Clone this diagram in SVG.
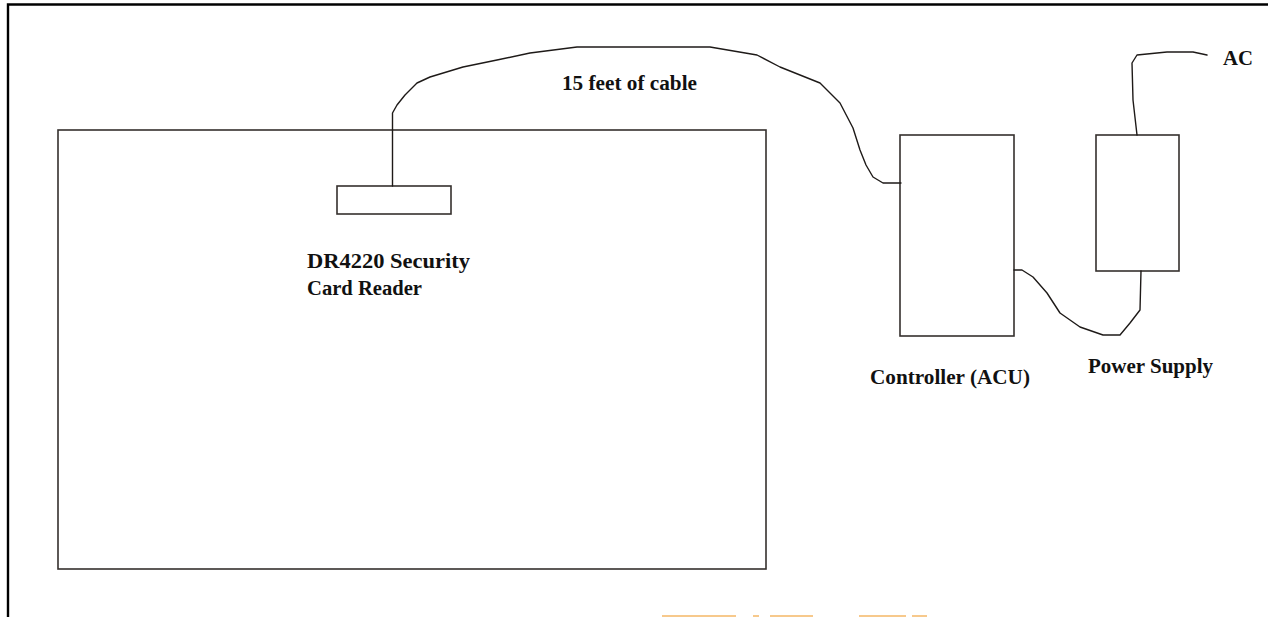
<svg xmlns="http://www.w3.org/2000/svg" width="1268" height="617" viewBox="0 0 1268 617">
<style>
.box{fill:none;stroke:#35302d;stroke-width:1.6}
.wire{fill:none;stroke:#1e1a18;stroke-width:1.4;stroke-linejoin:round;stroke-linecap:round}
.lbl{font-family:"Liberation Serif","Times New Roman",serif;font-weight:bold;font-size:20px;fill:#111}
.frame{fill:none;stroke:#000;stroke-width:2.4}
.mark{fill:#f7c98c}
</style>
<rect width="1268" height="617" fill="#fff"/>
<path class="frame" d="M8,617 V4.5 H1268"/>
<g id="door">
<rect class="box" x="58" y="130" width="708" height="439"/>
</g>
<g id="card-reader">
<rect class="box" x="337" y="186" width="114" height="28"/>
<text class="lbl" x="307" y="268" textLength="163" lengthAdjust="spacingAndGlyphs">DR4220 Security</text>
<text class="lbl" x="307" y="295" textLength="115" lengthAdjust="spacingAndGlyphs">Card Reader</text>
</g>
<g id="controller">
<rect class="box" x="900" y="135" width="114" height="201"/>
<text class="lbl" x="870" y="384" textLength="160" lengthAdjust="spacingAndGlyphs">Controller (ACU)</text>
</g>
<g id="power-supply">
<rect class="box" x="1096" y="135" width="83" height="136"/>
<text class="lbl" x="1088" y="373" textLength="125" lengthAdjust="spacingAndGlyphs">Power Supply</text>
</g>
<g id="ac">
<text class="lbl" x="1223" y="65" textLength="30" lengthAdjust="spacingAndGlyphs">AC</text>
</g>
<g id="connectors">
<path class="wire" d="M392.5,186 V113 L397,105 L405,95 L417,83 L430,77 L463,67 L497,60 L530,53 L577,47 L710,47 L757,55 L780,67 L820,83 L840,103 L853,128 L860,150 L866,165 L873,177 L883,183 L901,183"/>
<text class="lbl" x="562" y="90" textLength="135" lengthAdjust="spacingAndGlyphs">15 feet of cable</text>
<path class="wire" d="M1014,270 L1022,270 L1033,277 L1047,293 L1060,313 L1080,327 L1103,335 L1120,335 L1130,323 L1140,310 L1141,271"/>
<path class="wire" d="M1137,135 L1133,100 L1132,63 L1137,55 L1167,52 L1193,52 L1207,55"/>
</g>
<g id="bottom-marks">
<rect class="mark" x="662" y="615" width="74" height="2"/>
<rect class="mark" x="753" y="615" width="6" height="2"/>
<rect class="mark" x="770" y="615" width="43" height="2"/>
<rect class="mark" x="859" y="615" width="47" height="2"/>
<rect class="mark" x="912" y="615" width="15" height="2"/>
</g>
</svg>
